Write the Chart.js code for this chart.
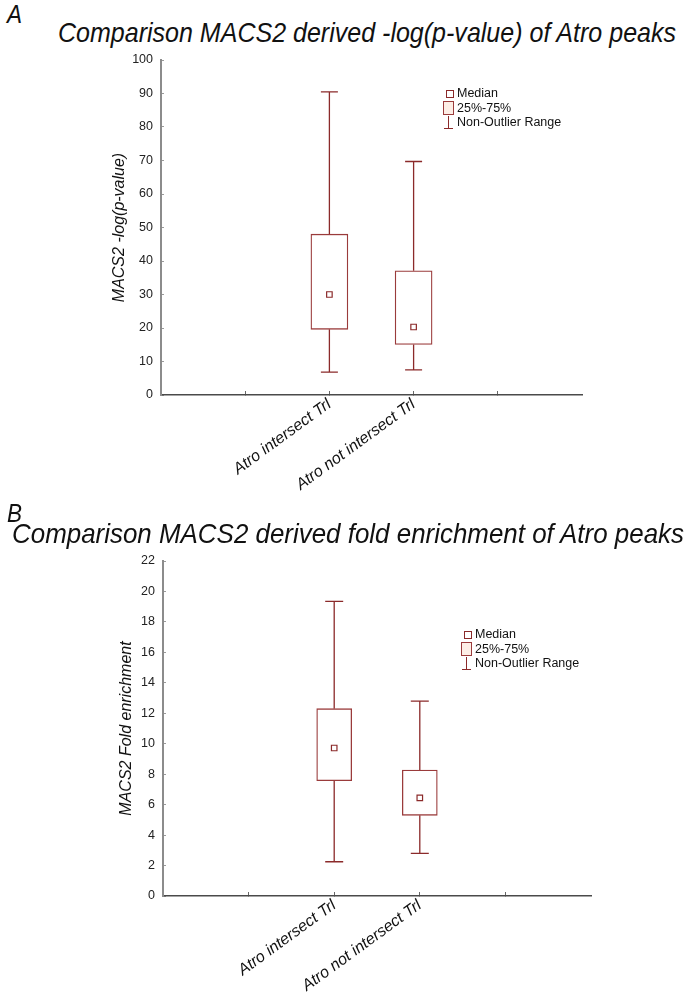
<!DOCTYPE html>
<html>
<head>
<meta charset="utf-8">
<script src="https://cdn.jsdelivr.net/npm/chart.js@4/dist/chart.umd.min.js"></script>
<style>
  html, body { margin: 0; padding: 0; background: #fff; }
  body { width: 686px; height: 994px; position: relative; overflow: hidden; font-family: "Liberation Sans", Arial, sans-serif; }
  .panel { position: absolute; left: 0; font-style: italic; color: #111; font-size: 25px; line-height: 1; transform-origin: 0 0; transform: scaleX(0.9); }
  .title { position: absolute; white-space: nowrap; font-style: italic; color: #111; font-size: 28px; line-height: 1; transform-origin: 0 0; font-family: "Liberation Sans Narrow", "Liberation Sans", Arial, sans-serif; }
  canvas { position: absolute; left: 0; }
  .legend { position: absolute; font-size: 12.5px; color: #111; line-height: 14.5px; }
  .legend .row { position: relative; padding-left: 14px; height: 14.5px; white-space: nowrap; }
  .ico { position: absolute; box-sizing: border-box; }
  .ico.med { left: 2.5px; top: 3.5px; width: 8px; height: 8px; border: 1px solid #8b2a2a; background: #fff; }
  .ico.box { left: 0px; top: 0px; width: 11px; height: 14px; border: 1px solid #9a3b3b; background: #fdeee6; }
  .ico.wh { left: 1px; top: 1px; width: 9px; height: 13px; }
  .ico.wh::before { content: ""; position: absolute; left: 4px; top: 0; width: 1px; height: 13px; background: #8b2a2a; }
  .ico.wh::after { content: ""; position: absolute; left: 0; bottom: 0; width: 9px; height: 1px; background: #8b2a2a; }
</style>
</head>
<body>
<div class="panel" style="left:7px; top:2px;">A</div>
<div class="title" id="titleA" data-w="618" style="left:58px; top:19px;">Comparison MACS2 derived -log(p-value) of Atro peaks</div>
<canvas id="chartA" width="686" height="460" style="top:40px; width:686px; height:460px;"></canvas>
<div class="legend" style="left:443px; top:86px;">
  <div class="row"><span class="ico med"></span>Median</div>
  <div class="row"><span class="ico box"></span>25%-75%</div>
  <div class="row"><span class="ico wh"></span>Non-Outlier Range</div>
</div>

<div class="panel" style="left:7px; top:501px;">B</div>
<div class="title" id="titleB" data-w="672" style="left:12px; top:520px;">Comparison MACS2 derived fold enrichment of Atro peaks</div>
<canvas id="chartB" width="686" height="454" style="top:540px; width:686px; height:454px;"></canvas>
<div class="legend" style="left:461px; top:627px;">
  <div class="row"><span class="ico med"></span>Median</div>
  <div class="row"><span class="ico box"></span>25%-75%</div>
  <div class="row"><span class="ico wh"></span>Non-Outlier Range</div>
</div>

<script>
// ---- data ----
const categories = ['Atro intersect Trl', 'Atro not intersect Trl'];
const categoryPos = [2, 3];          // positions on the 0..5 x axis
const xTickValues = [1, 2, 3, 4];

// Panel A: MACS2 -log(p-value)
const pvalMin    = [6.8, 7.5];
const pvalQ1     = [19.6, 15.1];
const pvalMedian = [30.0, 20.3];
const pvalQ3     = [48.0, 37.1];
const pvalMax    = [90.5, 69.7];
const pvalTicks  = [0, 10, 20, 30, 40, 50, 60, 70, 80, 90, 100];

// Panel B: MACS2 fold enrichment
const foldMin    = [2.25, 2.8];
const foldQ1     = [7.57, 5.3];
const foldMedian = [9.72, 6.45];
const foldQ3     = [12.3, 8.27];
const foldMax    = [19.35, 12.8];
const foldTicks  = [0, 2, 4, 6, 8, 10, 12, 14, 16, 18, 20, 22];

// ---- title fitting ----
document.querySelectorAll('.title').forEach(el => {
  const w = el.getBoundingClientRect().width;
  const target = +el.dataset.w;
  el.style.transform = 'scaleX(' + (target / w) + ')';
});

const WHISKER = '#8b2a2a';
const BOXLINE = '#9a3b3b';

const whiskerPlugin = {
  id: 'whiskers',
  beforeDatasetsDraw(chart, args, opts) {
    const {ctx, scales: {x, y}} = chart;
    ctx.save();
    ctx.strokeStyle = WHISKER;
    ctx.lineWidth = 1.3;
    opts.min.forEach((mn, i) => {
      const px = x.getPixelForValue(categoryPos[i]);
      const half = opts.cap / 2;
      const segs = [[mn, opts.q1[i]], [opts.q3[i], opts.max[i]]];
      ctx.beginPath();
      segs.forEach(([a, b]) => {
        ctx.moveTo(px, y.getPixelForValue(a));
        ctx.lineTo(px, y.getPixelForValue(b));
      });
      [mn, opts.max[i]].forEach(v => {
        const py = y.getPixelForValue(v);
        ctx.moveTo(px - half, py);
        ctx.lineTo(px + half, py);
      });
      ctx.stroke();
    });
    ctx.restore();
  }
};

function makeBox(id, d) {
  return new Chart(document.getElementById(id), {
    data: {
      datasets: [
        {
          type: 'bar',
          order: 2,
          data: categories.map((c, i) => ({x: categoryPos[i], y: [d.q1[i], d.q3[i]]})),
          backgroundColor: '#ffffff',
          borderColor: BOXLINE,
          borderWidth: 1.3,
          borderSkipped: false,
          barThickness: d.boxW
        },
        {
          type: 'scatter',
          order: 1,
          data: categories.map((c, i) => ({x: categoryPos[i], y: d.med[i]})),
          pointStyle: 'rect',
          pointRadius: 3.9,
          pointHoverRadius: 3.9,
          backgroundColor: '#ffffff',
          borderColor: WHISKER,
          borderWidth: 1.2
        }
      ]
    },
    options: {
      responsive: false,
      animation: false,
      events: [],
      layout: {padding: d.pad},
      plugins: {
        legend: {display: false},
        tooltip: {enabled: false},
        whiskers: {min: d.min, q1: d.q1, q3: d.q3, max: d.max, cap: d.cap}
      },
      scales: {
        x: {
          type: 'linear',
          offset: false,
          min: 0, max: 5,
          afterBuildTicks: s => { s.ticks = xTickValues.map(v => ({value: v})); },
          afterFit: s => { s.height = d.xH; },
          ticks: {
            autoSkip: false,
            maxRotation: 36, minRotation: 36,
            padding: 4,
            color: '#111',
            font: {family: '"Liberation Sans", Arial, sans-serif', size: 16, style: 'italic'},
            callback: v => { const i = categoryPos.indexOf(v); return i >= 0 ? categories[i] : ''; }
          },
          grid: {offset: false, drawOnChartArea: false, drawTicks: true, tickLength: -4, color: '#666', lineWidth: 1},
          border: {color: '#4a4a4a', width: 1.5}
        },
        y: {
          type: 'linear',
          min: d.ticks[0], max: d.ticks[d.ticks.length - 1],
          afterBuildTicks: s => { s.ticks = d.ticks.map(v => ({value: v})); },
          afterFit: s => { s.width = d.yW; },
          ticks: {
            padding: 11,
            color: '#222',
            font: {family: '"Liberation Sans", Arial, sans-serif', size: 12.5}
          },
          grid: {drawOnChartArea: false, drawTicks: true, tickLength: -3, color: '#9a9a9a', lineWidth: 1},
          border: {color: '#8c8c8c', width: 2},
          title: {
            display: true,
            text: d.yTitle,
            color: '#111',
            font: {family: '"Liberation Sans", Arial, sans-serif', size: 16, style: 'italic'},
            padding: {top: d.titlePad, bottom: 0}
          }
        }
      }
    },
    plugins: [whiskerPlugin]
  });
}

makeBox('chartA', {
  min: pvalMin, q1: pvalQ1, med: pvalMedian, q3: pvalQ3, max: pvalMax, ticks: pvalTicks,
  yTitle: 'MACS2 -log(p-value)', titlePad: 110,
  pad: {top: 20, right: 104, bottom: 0, left: 0}, yW: 161, xH: 105, boxW: 37, cap: 17
});
makeBox('chartB', {
  min: foldMin, q1: foldQ1, med: foldMedian, q3: foldQ3, max: foldMax, ticks: foldTicks,
  yTitle: 'MACS2 Fold enrichment', titlePad: 117,
  pad: {top: 21, right: 95, bottom: 0, left: 0}, yW: 163, xH: 98, boxW: 35, cap: 18
});
</script>
</body>
</html>
